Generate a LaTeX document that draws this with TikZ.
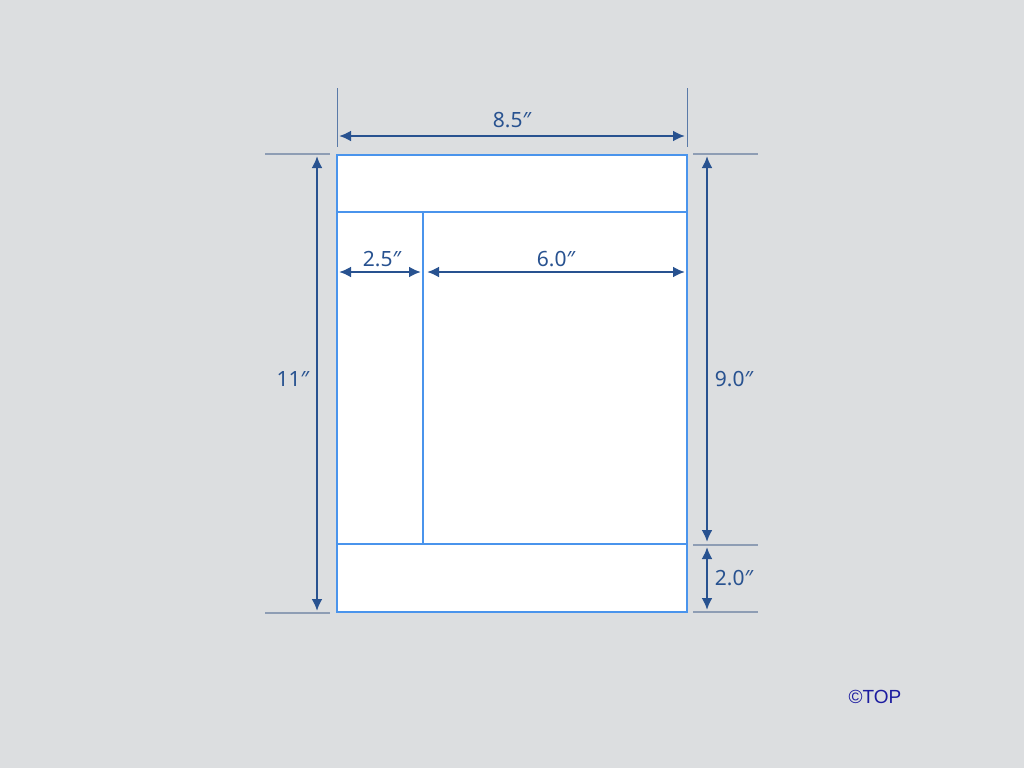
\documentclass[tikz,border=0pt]{standalone}
\usepackage{fontspec}
\setmainfont{Noto Sans}
\newfontfamily\copyfont{Liberation Sans}
\usetikzlibrary{arrows.meta}
\definecolor{bg}{HTML}{DCDEE0}
\definecolor{pageline}{HTML}{4A94EC}
\definecolor{dim}{HTML}{285290}
\definecolor{ext}{HTML}{8E9DB4}
\definecolor{extv}{HTML}{5A7AA8}
\definecolor{navy}{HTML}{1C1CA0}
\begin{document}
\begin{tikzpicture}[x=1pt,y=-1pt,
  pagebox/.style={draw=pageline,line width=2.2pt},
  dimarrow/.style={draw=dim,line width=2.4pt,{Latex[length=12pt,width=11pt]}-{Latex[length=12pt,width=11pt]}},
  extline/.style={draw=ext,line width=1.4pt},
  extvline/.style={draw=extv,line width=0.9pt},
  dimlabel/.style={text=dim,font=\fontsize{21}{24}\selectfont,inner sep=0pt}]
\fill[bg] (0,0) rectangle (1024,768);
\useasboundingbox (0,0) rectangle (1024,768);
% page corners
\coordinate (tl) at (337,155);
\coordinate (br) at (687,612);
\coordinate (hl) at (337,212);
\coordinate (hr) at (687,212);
\coordinate (fl) at (337,544);
\coordinate (fr) at (687,544);
\coordinate (st) at (423,212);
\coordinate (sb) at (423,544);
\fill[white] (tl) rectangle (br);
\draw[pagebox] (hl) -- (hr);
\draw[pagebox] (fl) -- (fr);
\draw[pagebox] (st) -- (sb);
\draw[pagebox] (tl) rectangle (br);
% top dimension
\coordinate (t1a) at (337,88); \coordinate (t1b) at (337,147);
\coordinate (t2a) at (687,88); \coordinate (t2b) at (687,147);
\draw[extvline] (t1a) -- (t1b);
\draw[extvline] (t2a) -- (t2b);
\coordinate (wa) at (339,136); \coordinate (wb) at (685,136);
\draw[dimarrow] (wa) -- (wb);
\node[dimlabel] (w) at (512,120) {8.5″};
% left dimension
\coordinate (l1a) at (265,154); \coordinate (l1b) at (330,154);
\coordinate (l2a) at (265,613); \coordinate (l2b) at (330,613);
\draw[extline] (l1a) -- (l1b);
\draw[extline] (l2a) -- (l2b);
\coordinate (ha) at (317,156); \coordinate (hb) at (317,611);
\draw[dimarrow] (ha) -- (hb);
\node[dimlabel] (h) at (293,379) {11″};
% right dimensions
\coordinate (r1a) at (693,154); \coordinate (r1b) at (758,154);
\coordinate (r2a) at (693,545); \coordinate (r2b) at (758,545);
\coordinate (r3a) at (693,612); \coordinate (r3b) at (758,612);
\draw[extline] (r1a) -- (r1b);
\draw[extline] (r2a) -- (r2b);
\draw[extline] (r3a) -- (r3b);
\coordinate (ba) at (707,156); \coordinate (bb) at (707,542);
\draw[dimarrow] (ba) -- (bb);
\node[dimlabel] (b) at (734,379) {9.0″};
\coordinate (fa) at (707,547); \coordinate (fb) at (707,610);
\draw[dimarrow] (fa) -- (fb);
\node[dimlabel] (f) at (734,578) {2.0″};
% inner dimensions
\coordinate (sa) at (339,272); \coordinate (sbb) at (421,272);
\draw[dimarrow] (sa) -- (sbb);
\node[dimlabel] (s) at (382,259) {2.5″};
\coordinate (ma) at (427,272); \coordinate (mb) at (685,272);
\draw[dimarrow] (ma) -- (mb);
\node[dimlabel] (m) at (556,259) {6.0″};
% copyright
\node[text=navy,font=\copyfont\fontsize{19}{22}\selectfont,inner sep=0pt] (c) at (875,697) {©TOP};
\end{tikzpicture}
\end{document}
